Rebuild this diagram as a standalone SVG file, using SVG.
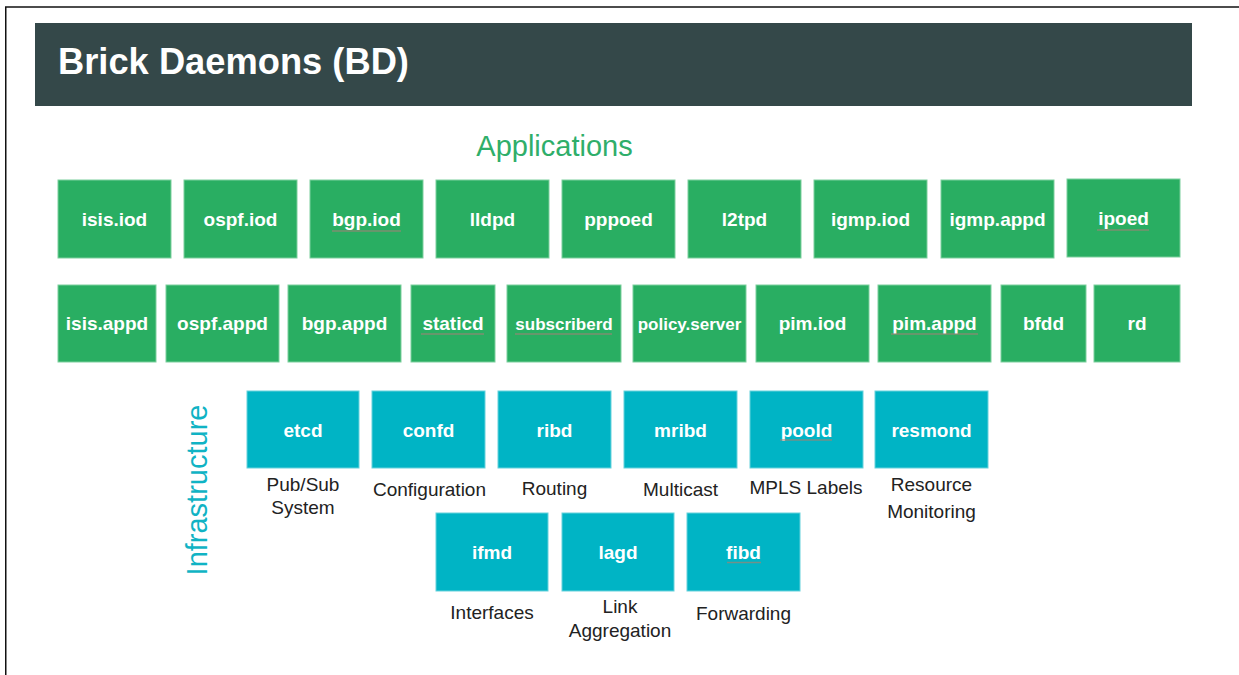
<svg xmlns="http://www.w3.org/2000/svg" width="1239" height="675" viewBox="0 0 1239 675">
<style>
  .app rect { fill: #29ae62; stroke: #7ccf9d; stroke-width: 1; }
  .inf rect { fill: #00b4c5; stroke: #66d2dc; stroke-width: 1; }
  .lbl { font-family: "Liberation Sans", Arial, sans-serif; font-weight: bold; font-size: 19px; fill: #ffffff; text-anchor: middle; }
  .sm { font-size: 17px; }
  .cap { font-family: "Liberation Sans", Arial, sans-serif; font-size: 19px; fill: #222222; text-anchor: middle; }
  .sq { stroke: #9a8476; stroke-width: 1.5; opacity: 0.75; }
</style>
<rect x="0" y="0" width="1239" height="675" fill="#ffffff"/>
<g id="frame">
  <line x1="5" y1="7" x2="1239" y2="7" stroke="#111111" stroke-width="1.5"/>
  <line x1="5.75" y1="7" x2="5.75" y2="675" stroke="#111111" stroke-width="1.5"/>
</g>
<g id="header">
  <rect x="35" y="23" width="1157" height="83" fill="#344849"/>
  <text x="58" y="74" font-family="Liberation Sans, Arial, sans-serif" font-weight="bold" font-size="36.3" fill="#ffffff">Brick Daemons (BD)</text>
</g>
<text id="applications-title" x="554.5" y="156" font-family="Liberation Sans, Arial, sans-serif" font-size="29" fill="#2fae6a" text-anchor="middle">Applications</text>
<text id="infrastructure-title" transform="translate(207,490) rotate(-90)" font-family="Liberation Sans, Arial, sans-serif" font-size="29" fill="#10b3c4" text-anchor="middle">Infrastructure</text>

<!-- Applications row 1 -->
<g id="isis-iod" class="app"><rect x="58" y="180" width="113" height="78"/><text class="lbl" x="114.5" y="226">isis.iod</text></g>
<g id="ospf-iod" class="app"><rect x="184" y="180" width="113" height="78"/><text class="lbl" x="240.5" y="226">ospf.iod</text></g>
<g id="bgp-iod" class="app"><rect x="310" y="180" width="113" height="78"/><text class="lbl" x="366.5" y="226">bgp.iod</text><line class="sq" x1="332" y1="231" x2="401" y2="231"/></g>
<g id="lldpd" class="app"><rect x="436" y="180" width="113" height="78"/><text class="lbl" x="492.5" y="226">lldpd</text></g>
<g id="pppoed" class="app"><rect x="562" y="180" width="113" height="78"/><text class="lbl" x="618.5" y="226">pppoed</text></g>
<g id="l2tpd" class="app"><rect x="688" y="180" width="113" height="78"/><text class="lbl" x="744.5" y="226">l2tpd</text></g>
<g id="igmp-iod" class="app"><rect x="814" y="180" width="113" height="78"/><text class="lbl" x="870.5" y="226">igmp.iod</text></g>
<g id="igmp-appd" class="app"><rect x="941" y="180" width="113" height="78"/><text class="lbl" x="997.5" y="226">igmp.appd</text></g>
<g id="ipoed" class="app"><rect x="1067" y="179" width="113" height="78"/><text class="lbl" x="1123.5" y="225">ipoed</text><line class="sq" x1="1097" y1="230" x2="1149" y2="230"/></g>

<!-- Applications row 2 -->
<g id="isis-appd" class="app"><rect x="58" y="285" width="98" height="77"/><text class="lbl" x="107" y="330">isis.appd</text></g>
<g id="ospf-appd" class="app"><rect x="166" y="285" width="113" height="77"/><text class="lbl" x="222.5" y="330">ospf.appd</text></g>
<g id="bgp-appd" class="app"><rect x="288" y="285" width="113" height="77"/><text class="lbl" x="344.5" y="330">bgp.appd</text></g>
<g id="staticd" class="app"><rect x="411" y="285" width="84" height="77"/><text class="lbl" x="453" y="330">staticd</text><line class="sq" x1="421" y1="334" x2="484" y2="334"/></g>
<g id="subscriberd" class="app"><rect x="507" y="285" width="114" height="77"/><text class="lbl sm" x="564" y="330">subscriberd</text><line class="sq" x1="515" y1="334" x2="612" y2="334"/></g>
<g id="policy-server" class="app"><rect x="633" y="285" width="113" height="77"/><text class="lbl sm" x="689.5" y="330">policy.server</text></g>
<g id="pim-iod" class="app"><rect x="756" y="285" width="113" height="77"/><text class="lbl" x="812.5" y="330">pim.iod</text></g>
<g id="pim-appd" class="app"><rect x="878" y="285" width="113" height="77"/><text class="lbl" x="934.5" y="330">pim.appd</text><line class="sq" x1="891" y1="334" x2="978" y2="334"/></g>
<g id="bfdd" class="app"><rect x="1001" y="285" width="85" height="77"/><text class="lbl" x="1043.5" y="330">bfdd</text></g>
<g id="rd" class="app"><rect x="1094" y="285" width="86" height="77"/><text class="lbl" x="1137" y="330">rd</text></g>

<!-- Infrastructure row 1 -->
<g id="etcd" class="inf"><rect x="247" y="391" width="112" height="77"/><text class="lbl" x="303" y="437">etcd</text>
  <text class="cap" x="303" y="491">Pub/Sub</text><text class="cap" x="303" y="514">System</text></g>
<g id="confd" class="inf"><rect x="372" y="391" width="113" height="77"/><text class="lbl" x="428.5" y="437">confd</text>
  <text class="cap" x="429.5" y="496">Configuration</text></g>
<g id="ribd" class="inf"><rect x="498" y="391" width="113" height="77"/><text class="lbl" x="554.5" y="437">ribd</text>
  <text class="cap" x="554.5" y="495">Routing</text></g>
<g id="mribd" class="inf"><rect x="624" y="391" width="113" height="77"/><text class="lbl" x="680.5" y="437">mribd</text>
  <text class="cap" x="680.5" y="496">Multicast</text></g>
<g id="poold" class="inf"><rect x="750" y="391" width="113" height="77"/><text class="lbl" x="806.5" y="437">poold</text><line class="sq" x1="780" y1="440" x2="832" y2="440"/>
  <text class="cap" x="806" y="494">MPLS Labels</text></g>
<g id="resmond" class="inf"><rect x="875" y="391" width="113" height="77"/><text class="lbl" x="931.5" y="437">resmond</text>
  <text class="cap" x="931.5" y="491">Resource</text><text class="cap" x="931.5" y="518">Monitoring</text></g>

<!-- Infrastructure row 2 -->
<g id="ifmd" class="inf"><rect x="436" y="513" width="112" height="78"/><text class="lbl" x="492" y="559">ifmd</text>
  <text class="cap" x="492" y="619">Interfaces</text></g>
<g id="lagd" class="inf"><rect x="562" y="513" width="112" height="78"/><text class="lbl" x="618" y="559">lagd</text>
  <text class="cap" x="620" y="613">Link</text><text class="cap" x="620" y="637">Aggregation</text></g>
<g id="fibd" class="inf"><rect x="687" y="513" width="113" height="78"/><text class="lbl" x="743.5" y="559">fibd</text><line class="sq" x1="727" y1="562.5" x2="761" y2="562.5"/>
  <text class="cap" x="743.5" y="620">Forwarding</text></g>

<g id="connectors"></g>
</svg>
